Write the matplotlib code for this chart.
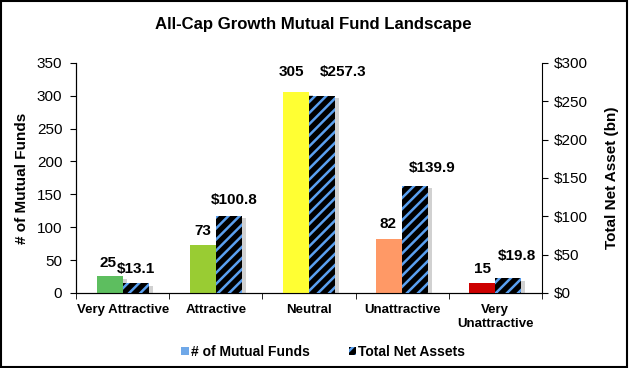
import numpy as np
import matplotlib
matplotlib.use('Agg')
import matplotlib.pyplot as plt
import matplotlib.patheffects as pe
from matplotlib.patches import Patch, Rectangle

plt.rcParams['font.family'] = ['Liberation Sans', 'DejaVu Sans']
plt.rcParams['hatch.linewidth'] = 1.8

categories = ['Very Attractive', 'Attractive', 'Neutral', 'Unattractive', 'Very\nUnattractive']
num_funds = [25, 73, 305, 82, 15]
net_assets = [13.1, 100.8, 257.3, 139.9, 19.8]
fund_colors = ['#5DBE5F', '#99CC33', '#FFFF33', '#FF9966', '#CC0000']
hatch_blue = '#5AA0F0'

# label offsets (points) relative to bar top, as placed in the original
fund_lbl_off = [(-1, 10), (0, 10), (-3, 14.5), (-1, 11), (0, 10)]
asset_lbl_off = [(0, 10), (4, 11.5), (15, 17), (12, 13), (6, 16)]

fig = plt.figure(figsize=(6.3, 3.68), dpi=100)
ax = fig.add_axes([0.121, 0.204, 0.739, 0.625])
ax2 = ax.twinx()

x = np.arange(len(categories))
w = 0.28
shadow_only = [pe.SimplePatchShadow(offset=(3, -2), shadow_rgbFace='#999999', alpha=0.45)]

ax.bar(x - w / 2, num_funds, w, color=fund_colors, linewidth=0,
       path_effects=shadow_only + [pe.Normal()], zorder=3)
# soft shadow drawn on its own so the hatch does not spill into it
ax2.bar(x + w / 2, net_assets, w, color='black', linewidth=0, path_effects=shadow_only, zorder=2)
ax2.bar(x + w / 2, net_assets, w, color='black', edgecolor=hatch_blue, linewidth=0,
        hatch='///', zorder=3)

for xi, v, off in zip(x, num_funds, fund_lbl_off):
    ax.annotate(f'{v}', (xi - w / 2, v), xytext=off, textcoords='offset points',
                ha='center', va='center', fontsize=11, fontweight='bold')
for xi, v, off in zip(x, net_assets, asset_lbl_off):
    ax2.annotate(f'${v:.1f}', (xi + w / 2, v), xytext=off, textcoords='offset points',
                 ha='center', va='center', fontsize=11, fontweight='bold')

ax.set_xlim(-0.5, len(categories) - 0.5)
ax.set_ylim(0, 350)
ax2.set_ylim(0, 300)
ax.set_yticks(np.arange(0, 351, 50))
ax2.set_yticks(np.arange(0, 301, 50))
ax2.set_yticklabels([f'${t}' for t in range(0, 301, 50)])

ax.set_xticks(x)
ax.set_xticklabels(categories, fontsize=9.5, fontweight='bold')
ax.set_xticks(np.arange(-0.5, len(categories), 1), minor=True)
ax.tick_params(axis='x', which='major', length=0, pad=8)
ax.tick_params(axis='x', which='minor', length=4, direction='out')
ax.tick_params(axis='y', labelsize=11, length=4, pad=6)
ax2.tick_params(axis='y', labelsize=11, length=4, pad=5)

for a in (ax, ax2):
    a.spines['top'].set_visible(False)
ax.spines['right'].set_visible(False)

ax.set_ylabel('# of Mutual Funds', fontsize=11, fontweight='bold', labelpad=6)
ax2.set_ylabel('Total Net Asset (bn)', fontsize=11, fontweight='bold', labelpad=12)

fig.suptitle('All-Cap Growth Mutual Fund Landscape', x=0.497, y=0.955, fontsize=12.1,
             fontweight='bold')

handles = [Patch(facecolor='#6FA8E8', edgecolor='none'),
           Patch(facecolor='black', edgecolor=hatch_blue, linewidth=0, hatch='///')]
fig.legend(handles, ['# of Mutual Funds', 'Total Net Assets'], loc='center',
           bbox_to_anchor=(0.513, 0.043), ncol=2, frameon=False,
           prop={'weight': 'bold', 'size': 10}, handlelength=0.55, handleheight=0.55,
           handletextpad=0.15, columnspacing=2.8)

fig.patches.append(Rectangle((0.002, 0.004), 0.994, 0.992, transform=fig.transFigure,
                             fill=False, edgecolor='black', linewidth=1.5))

fig.savefig('out.png', dpi=100)
